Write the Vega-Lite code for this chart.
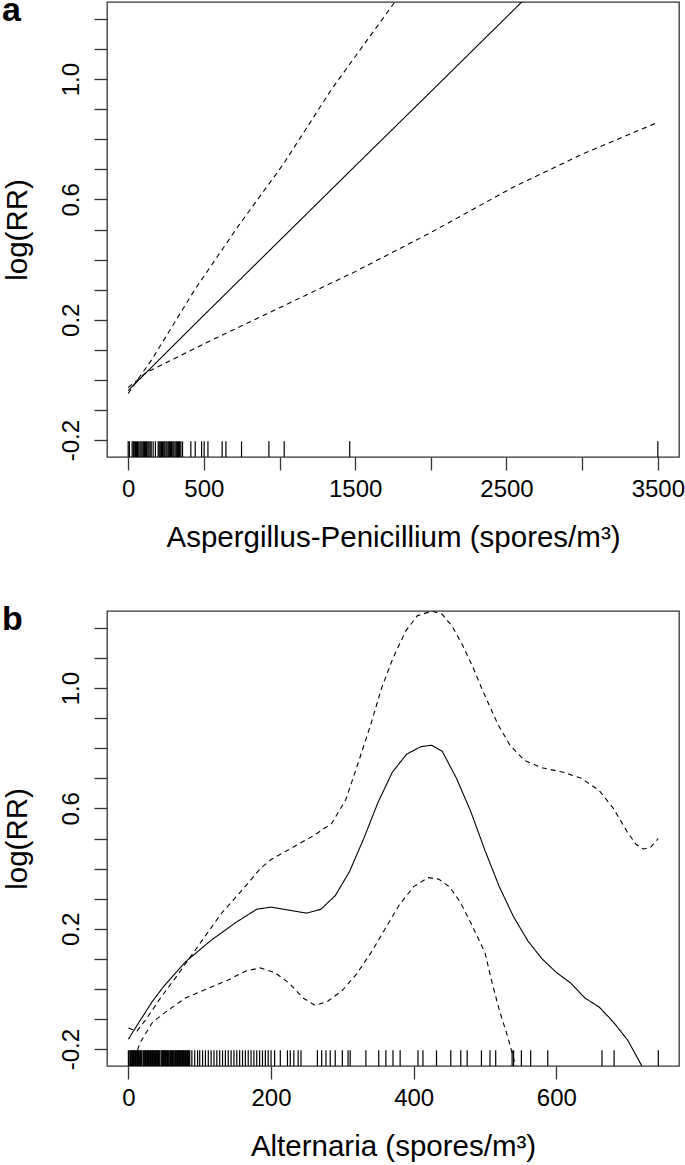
{
  "$schema": "https://vega.github.io/schema/vega-lite/v6.json",
  "background": "white",
  "padding": {"left": 1, "top": -7, "right": 0, "bottom": 0},
  "spacing": 49,
  "config": {
    "font": "Liberation Sans",
    "view": {"stroke": "#333", "strokeWidth": 1.3},
    "axis": {
      "domain": false, "grid": false,
      "tickColor": "#333", "tickWidth": 1.3, "tickSize": 13,
      "labelFont": "Liberation Sans", "labelFontSize": 24, "labelColor": "#000",
      "titleFont": "Liberation Sans", "titleFontSize": 29.5, "titleFontWeight": "normal", "titleColor": "#000",
      "labelOverlap": false, "labelFlush": false, "labelBound": false
    },
    "axisX": {"labelBaseline": "alphabetic", "labelPadding": 26, "titleX": 286, "titleY": 89, "titleBaseline": "alphabetic", "titleAlign": "center"},
    "axisY": {"labelAngle": 270, "labelAlign": "center", "labelBaseline": "alphabetic", "labelPadding": 16,
      "titleX": -81, "titleY": 227.5, "titleAngle": 270, "titleBaseline": "alphabetic", "titleAlign": "center",
      "values": [-0.2, 0, 0.2, 0.4, 0.6, 0.8, 1.0, 1.2],
      "labelExpr": "abs(datum.value+0.2)<0.01 ? '-0.2' : abs(datum.value-0.2)<0.01 ? '0.2' : abs(datum.value-0.6)<0.01 ? '0.6' : abs(datum.value-1)<0.01 ? '1.0' : ''"},
    "title": {"anchor": "start", "frame": "bounds", "fontSize": 34, "fontWeight": "bold", "baseline": "alphabetic", "offset": 0, "dy": 30, "color": "#000", "font": "Liberation Sans"}
  },
  "datasets": {
    "curvesA": [
      {"x": 0, "y": -0.035, "s": "fit", "t": "solid"},
      {"x": 500, "y": 0.215, "s": "fit", "t": "solid"},
      {"x": 1000, "y": 0.463, "s": "fit", "t": "solid"},
      {"x": 1500, "y": 0.711, "s": "fit", "t": "solid"},
      {"x": 2000, "y": 0.958, "s": "fit", "t": "solid"},
      {"x": 2500, "y": 1.206, "s": "fit", "t": "solid"},
      {"x": 2800, "y": 1.355, "s": "fit", "t": "solid"},
      {"x": 0, "y": -0.045, "s": "upper", "t": "dashed"},
      {"x": 75, "y": 0.01, "s": "upper", "t": "dashed"},
      {"x": 155, "y": 0.067, "s": "upper", "t": "dashed"},
      {"x": 440, "y": 0.3, "s": "upper", "t": "dashed"},
      {"x": 727, "y": 0.511, "s": "upper", "t": "dashed"},
      {"x": 1025, "y": 0.717, "s": "upper", "t": "dashed"},
      {"x": 1345, "y": 0.967, "s": "upper", "t": "dashed"},
      {"x": 1762, "y": 1.256, "s": "upper", "t": "dashed"},
      {"x": 1900, "y": 1.36, "s": "upper", "t": "dashed"},
      {"x": 0, "y": -0.025, "s": "lower", "t": "dashed"},
      {"x": 75, "y": 0.005, "s": "lower", "t": "dashed"},
      {"x": 110, "y": 0.022, "s": "lower", "t": "dashed"},
      {"x": 500, "y": 0.12, "s": "lower", "t": "dashed"},
      {"x": 1000, "y": 0.24, "s": "lower", "t": "dashed"},
      {"x": 1500, "y": 0.36, "s": "lower", "t": "dashed"},
      {"x": 2000, "y": 0.49, "s": "lower", "t": "dashed"},
      {"x": 2557, "y": 0.644, "s": "lower", "t": "dashed"},
      {"x": 3000, "y": 0.75, "s": "lower", "t": "dashed"},
      {"x": 3500, "y": 0.856, "s": "lower", "t": "dashed"}
    ],
    "rugA": [
      {"x": 0}, {"x": 8}, {"x": 26}, {"x": 34}, {"x": 40}, {"x": 48}, {"x": 55}, {"x": 62}, {"x": 70}, {"x": 78},
      {"x": 85}, {"x": 92}, {"x": 100}, {"x": 107}, {"x": 115}, {"x": 122}, {"x": 130}, {"x": 137}, {"x": 145}, {"x": 152},
      {"x": 165}, {"x": 180}, {"x": 198}, {"x": 205}, {"x": 212}, {"x": 220}, {"x": 227}, {"x": 235}, {"x": 242}, {"x": 250},
      {"x": 257}, {"x": 265}, {"x": 272}, {"x": 280}, {"x": 287}, {"x": 295}, {"x": 302}, {"x": 310}, {"x": 318}, {"x": 325},
      {"x": 333}, {"x": 340}, {"x": 348}, {"x": 359}, {"x": 414}, {"x": 443}, {"x": 485}, {"x": 502}, {"x": 527}, {"x": 621},
      {"x": 646}, {"x": 749}, {"x": 930}, {"x": 1031}, {"x": 1464}, {"x": 3500}
    ],
    "curvesB": [
      {"x": 0, "y": -0.167, "s": "fit", "t": "solid"},
      {"x": 15, "y": -0.11, "s": "fit", "t": "solid"},
      {"x": 34, "y": -0.04, "s": "fit", "t": "solid"},
      {"x": 50, "y": 0.01, "s": "fit", "t": "solid"},
      {"x": 80, "y": 0.09, "s": "fit", "t": "solid"},
      {"x": 115, "y": 0.16, "s": "fit", "t": "solid"},
      {"x": 150, "y": 0.22, "s": "fit", "t": "solid"},
      {"x": 180, "y": 0.265, "s": "fit", "t": "solid"},
      {"x": 200, "y": 0.272, "s": "fit", "t": "solid"},
      {"x": 225, "y": 0.262, "s": "fit", "t": "solid"},
      {"x": 250, "y": 0.252, "s": "fit", "t": "solid"},
      {"x": 270, "y": 0.265, "s": "fit", "t": "solid"},
      {"x": 290, "y": 0.31, "s": "fit", "t": "solid"},
      {"x": 310, "y": 0.39, "s": "fit", "t": "solid"},
      {"x": 330, "y": 0.5, "s": "fit", "t": "solid"},
      {"x": 350, "y": 0.62, "s": "fit", "t": "solid"},
      {"x": 370, "y": 0.72, "s": "fit", "t": "solid"},
      {"x": 390, "y": 0.78, "s": "fit", "t": "solid"},
      {"x": 410, "y": 0.805, "s": "fit", "t": "solid"},
      {"x": 425, "y": 0.81, "s": "fit", "t": "solid"},
      {"x": 440, "y": 0.79, "s": "fit", "t": "solid"},
      {"x": 460, "y": 0.7, "s": "fit", "t": "solid"},
      {"x": 480, "y": 0.59, "s": "fit", "t": "solid"},
      {"x": 500, "y": 0.46, "s": "fit", "t": "solid"},
      {"x": 520, "y": 0.34, "s": "fit", "t": "solid"},
      {"x": 540, "y": 0.24, "s": "fit", "t": "solid"},
      {"x": 560, "y": 0.16, "s": "fit", "t": "solid"},
      {"x": 580, "y": 0.1, "s": "fit", "t": "solid"},
      {"x": 600, "y": 0.055, "s": "fit", "t": "solid"},
      {"x": 620, "y": 0.02, "s": "fit", "t": "solid"},
      {"x": 640, "y": -0.03, "s": "fit", "t": "solid"},
      {"x": 660, "y": -0.06, "s": "fit", "t": "solid"},
      {"x": 680, "y": -0.11, "s": "fit", "t": "solid"},
      {"x": 700, "y": -0.17, "s": "fit", "t": "solid"},
      {"x": 720, "y": -0.256, "s": "fit", "t": "solid"},
      {"x": 0, "y": -0.13, "s": "upper", "t": "dashed"},
      {"x": 12, "y": -0.14, "s": "upper", "t": "dashed"},
      {"x": 25, "y": -0.1, "s": "upper", "t": "dashed"},
      {"x": 45, "y": -0.03, "s": "upper", "t": "dashed"},
      {"x": 70, "y": 0.05, "s": "upper", "t": "dashed"},
      {"x": 100, "y": 0.15, "s": "upper", "t": "dashed"},
      {"x": 130, "y": 0.25, "s": "upper", "t": "dashed"},
      {"x": 160, "y": 0.33, "s": "upper", "t": "dashed"},
      {"x": 185, "y": 0.4, "s": "upper", "t": "dashed"},
      {"x": 200, "y": 0.43, "s": "upper", "t": "dashed"},
      {"x": 230, "y": 0.47, "s": "upper", "t": "dashed"},
      {"x": 260, "y": 0.51, "s": "upper", "t": "dashed"},
      {"x": 285, "y": 0.55, "s": "upper", "t": "dashed"},
      {"x": 305, "y": 0.63, "s": "upper", "t": "dashed"},
      {"x": 322, "y": 0.75, "s": "upper", "t": "dashed"},
      {"x": 340, "y": 0.88, "s": "upper", "t": "dashed"},
      {"x": 355, "y": 1.0, "s": "upper", "t": "dashed"},
      {"x": 371, "y": 1.1, "s": "upper", "t": "dashed"},
      {"x": 389, "y": 1.19, "s": "upper", "t": "dashed"},
      {"x": 405, "y": 1.24, "s": "upper", "t": "dashed"},
      {"x": 426, "y": 1.256, "s": "upper", "t": "dashed"},
      {"x": 440, "y": 1.245, "s": "upper", "t": "dashed"},
      {"x": 454, "y": 1.205, "s": "upper", "t": "dashed"},
      {"x": 468, "y": 1.145, "s": "upper", "t": "dashed"},
      {"x": 482, "y": 1.075, "s": "upper", "t": "dashed"},
      {"x": 497, "y": 0.99, "s": "upper", "t": "dashed"},
      {"x": 518, "y": 0.88, "s": "upper", "t": "dashed"},
      {"x": 535, "y": 0.81, "s": "upper", "t": "dashed"},
      {"x": 555, "y": 0.76, "s": "upper", "t": "dashed"},
      {"x": 580, "y": 0.735, "s": "upper", "t": "dashed"},
      {"x": 610, "y": 0.72, "s": "upper", "t": "dashed"},
      {"x": 635, "y": 0.7, "s": "upper", "t": "dashed"},
      {"x": 660, "y": 0.66, "s": "upper", "t": "dashed"},
      {"x": 680, "y": 0.6, "s": "upper", "t": "dashed"},
      {"x": 700, "y": 0.52, "s": "upper", "t": "dashed"},
      {"x": 712, "y": 0.48, "s": "upper", "t": "dashed"},
      {"x": 722, "y": 0.465, "s": "upper", "t": "dashed"},
      {"x": 732, "y": 0.47, "s": "upper", "t": "dashed"},
      {"x": 743, "y": 0.5, "s": "upper", "t": "dashed"},
      {"x": 5, "y": -0.26, "s": "lower", "t": "dashed"},
      {"x": 16, "y": -0.18, "s": "lower", "t": "dashed"},
      {"x": 34, "y": -0.11, "s": "lower", "t": "dashed"},
      {"x": 56, "y": -0.07, "s": "lower", "t": "dashed"},
      {"x": 80, "y": -0.03, "s": "lower", "t": "dashed"},
      {"x": 110, "y": 0.0, "s": "lower", "t": "dashed"},
      {"x": 140, "y": 0.03, "s": "lower", "t": "dashed"},
      {"x": 165, "y": 0.06, "s": "lower", "t": "dashed"},
      {"x": 185, "y": 0.07, "s": "lower", "t": "dashed"},
      {"x": 205, "y": 0.055, "s": "lower", "t": "dashed"},
      {"x": 225, "y": 0.02, "s": "lower", "t": "dashed"},
      {"x": 245, "y": -0.03, "s": "lower", "t": "dashed"},
      {"x": 262, "y": -0.055, "s": "lower", "t": "dashed"},
      {"x": 280, "y": -0.04, "s": "lower", "t": "dashed"},
      {"x": 300, "y": -0.005, "s": "lower", "t": "dashed"},
      {"x": 320, "y": 0.05, "s": "lower", "t": "dashed"},
      {"x": 340, "y": 0.12, "s": "lower", "t": "dashed"},
      {"x": 360, "y": 0.2, "s": "lower", "t": "dashed"},
      {"x": 380, "y": 0.28, "s": "lower", "t": "dashed"},
      {"x": 400, "y": 0.34, "s": "lower", "t": "dashed"},
      {"x": 420, "y": 0.37, "s": "lower", "t": "dashed"},
      {"x": 435, "y": 0.365, "s": "lower", "t": "dashed"},
      {"x": 450, "y": 0.34, "s": "lower", "t": "dashed"},
      {"x": 465, "y": 0.29, "s": "lower", "t": "dashed"},
      {"x": 480, "y": 0.22, "s": "lower", "t": "dashed"},
      {"x": 490, "y": 0.17, "s": "lower", "t": "dashed"},
      {"x": 500, "y": 0.12, "s": "lower", "t": "dashed"},
      {"x": 510, "y": 0.02, "s": "lower", "t": "dashed"},
      {"x": 520, "y": -0.07, "s": "lower", "t": "dashed"},
      {"x": 532, "y": -0.16, "s": "lower", "t": "dashed"},
      {"x": 543, "y": -0.256, "s": "lower", "t": "dashed"}
    ],
    "rugB": [
      {"x": 0}, {"x": 2}, {"x": 3}, {"x": 4}, {"x": 5}, {"x": 6}, {"x": 7}, {"x": 8}, {"x": 9}, {"x": 10},
      {"x": 11}, {"x": 12}, {"x": 13}, {"x": 14}, {"x": 15}, {"x": 16}, {"x": 17}, {"x": 18}, {"x": 19}, {"x": 21},
      {"x": 22}, {"x": 23}, {"x": 24}, {"x": 25}, {"x": 26}, {"x": 27}, {"x": 28}, {"x": 29}, {"x": 30}, {"x": 31},
      {"x": 32}, {"x": 33}, {"x": 34}, {"x": 35}, {"x": 36}, {"x": 37}, {"x": 38}, {"x": 39}, {"x": 40}, {"x": 41},
      {"x": 42}, {"x": 43}, {"x": 44}, {"x": 46}, {"x": 47}, {"x": 48}, {"x": 49}, {"x": 50}, {"x": 51}, {"x": 52},
      {"x": 53}, {"x": 54}, {"x": 55}, {"x": 56}, {"x": 58}, {"x": 59}, {"x": 60}, {"x": 61}, {"x": 62}, {"x": 63},
      {"x": 65}, {"x": 66}, {"x": 67}, {"x": 68}, {"x": 69}, {"x": 70}, {"x": 71}, {"x": 72}, {"x": 73}, {"x": 74},
      {"x": 75}, {"x": 76}, {"x": 77}, {"x": 78}, {"x": 79}, {"x": 80}, {"x": 81}, {"x": 82}, {"x": 83}, {"x": 84},
      {"x": 85}, {"x": 86}, {"x": 89}, {"x": 93}, {"x": 97},
      {"x": 100}, {"x": 104}, {"x": 108}, {"x": 112}, {"x": 116}, {"x": 120}, {"x": 124}, {"x": 128}, {"x": 132}, {"x": 136},
      {"x": 140}, {"x": 144}, {"x": 148}, {"x": 152}, {"x": 156}, {"x": 160}, {"x": 164}, {"x": 168}, {"x": 172}, {"x": 176},
      {"x": 180}, {"x": 184}, {"x": 188}, {"x": 192}, {"x": 196}, {"x": 200}, {"x": 205}, {"x": 213}, {"x": 223}, {"x": 227},
      {"x": 232}, {"x": 238}, {"x": 242}, {"x": 265}, {"x": 271}, {"x": 277}, {"x": 283}, {"x": 290}, {"x": 300}, {"x": 308},
      {"x": 311}, {"x": 333}, {"x": 351}, {"x": 361}, {"x": 371}, {"x": 381}, {"x": 406}, {"x": 413}, {"x": 432}, {"x": 452},
      {"x": 466}, {"x": 475}, {"x": 495}, {"x": 507}, {"x": 515}, {"x": 538}, {"x": 540}, {"x": 551}, {"x": 564}, {"x": 588},
      {"x": 664}, {"x": 681}, {"x": 743}
    ]
  },
  "vconcat": [
    {
      "width": 572, "height": 455,
      "title": {"text": "a"},
      "layer": [
        {
          "data": {"name": "rugA"},
          "mark": {"type": "rule", "color": "#000", "strokeWidth": 1.2},
          "encoding": {
            "x": {"field": "x", "type": "quantitative",
              "scale": {"domain": [-140, 3640], "nice": false, "zero": false},
              "axis": {"title": "Aspergillus-Penicillium (spores/m³)", "values": [0, 500, 1000, 1500, 2000, 2500, 3000, 3500], "format": "d",
                "labelExpr": "(datum.value == 1000 || datum.value == 2000 || datum.value == 3000) ? '' : datum.label"}},
            "y": {"datum": -0.256, "type": "quantitative",
              "scale": {"domain": [-0.256, 1.256], "nice": false, "zero": false},
              "axis": {"title": "log(RR)"}},
            "y2": {"datum": -0.204}
          }
        },
        {
          "data": {"name": "curvesA"},
          "mark": {"type": "line", "clip": true, "color": "#000", "strokeWidth": 1.1},
          "encoding": {
            "x": {"field": "x", "type": "quantitative"},
            "y": {"field": "y", "type": "quantitative"},
            "detail": {"field": "s"},
            "strokeDash": {"field": "t", "type": "nominal", "scale": {"domain": ["solid", "dashed"], "range": [[1, 0], [5, 4]]}, "legend": null}
          }
        }
      ]
    },
    {
      "width": 572, "height": 455,
      "title": {"text": "b"},
      "layer": [
        {
          "data": {"name": "rugB"},
          "mark": {"type": "rule", "color": "#000", "strokeWidth": 1.2},
          "encoding": {
            "x": {"field": "x", "type": "quantitative",
              "scale": {"domain": [-30, 772], "nice": false, "zero": false},
              "axis": {"title": "Alternaria (spores/m³)", "values": [0, 200, 400, 600], "format": "d"}},
            "y": {"datum": -0.256, "type": "quantitative",
              "scale": {"domain": [-0.256, 1.256], "nice": false, "zero": false},
              "axis": {"title": "log(RR)"}},
            "y2": {"datum": -0.204}
          }
        },
        {
          "data": {"name": "curvesB"},
          "mark": {"type": "line", "clip": true, "color": "#000", "strokeWidth": 1.1},
          "encoding": {
            "x": {"field": "x", "type": "quantitative"},
            "y": {"field": "y", "type": "quantitative"},
            "detail": {"field": "s"},
            "strokeDash": {"field": "t", "type": "nominal", "scale": {"domain": ["solid", "dashed"], "range": [[1, 0], [5, 4]]}, "legend": null}
          }
        }
      ]
    }
  ]
}
